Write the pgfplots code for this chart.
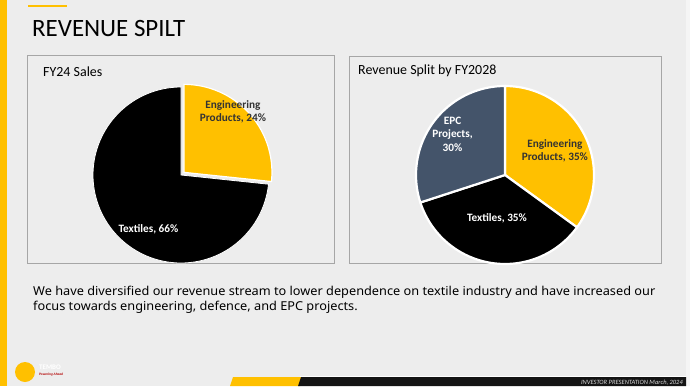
\documentclass[border=0pt]{standalone}
\usepackage{pgfplots}
\pgfplotsset{compat=1.18}
\usepackage{pgfplotstable}
\usepackage{fontspec}
\setmainfont{Carlito}
\newfontfamily\bodyfont{Noto Sans}
\definecolor{bgc}{HTML}{EDEDED}
\definecolor{ylw}{HTML}{FFC000}
\definecolor{slate}{HTML}{44546A}
\definecolor{lbl}{HTML}{333333}
\definecolor{pborder}{HTML}{A6A6A6}

% FY24 sales (%)
\pgfplotstableread{
label value
Engineering 24
Textiles 66
}\fyA
% FY2028 split (%)
\pgfplotstableread{
label value
Engineering 35
Textiles 35
EPC 30
}\fyB

\begin{document}
\begin{tikzpicture}[x=1bp,y=1bp]
\fill[bgc] (0,0) rectangle (690,386);
\fill[white!96!black] (686,0) rectangle (690,386);
\fill[ylw] (0,0) rectangle (7,386);
\fill[ylw] (28,379) rectangle (67,381);
\node[anchor=base west, inner sep=0, font=\fontsize{25}{28}\selectfont] at (32,350) {REVENUE SPILT};
\coordinate (cA) at (181,211);
\coordinate (cB) at (505,211);

% panels
\draw[pborder, line width=0.8bp] (27,123) rectangle (334,331);
\draw[pborder, line width=0.8bp] (349,123) rectangle (661,330);
\node[anchor=west, inner sep=0, font=\fontsize{14}{16}\selectfont] at (43,314) {FY24 Sales};
\node[anchor=west, inner sep=0, font=\fontsize{14}{16}\selectfont] at (358,315) {Revenue Split by FY2028};

% ---------- left pie ----------
\pgfplotstablegetelem{0}{value}\of\fyA \let\aE\pgfplotsretval
\pgfplotstablegetelem{1}{value}\of\fyA \let\aT\pgfplotsretval
\pgfmathsetmacro\aTot{\aE+\aT}
\pgfmathsetmacro\aAngE{360*\aE/\aTot}
\pgfmathsetmacro\aStart{90-\aAngE}
\pgfmathsetmacro\aMid{90-\aAngE/2}
\pgfmathsetmacro\aDx{0.045*cos(\aMid)}
\pgfmathsetmacro\aDy{0.045*sin(\aMid)}
\begin{axis}[at={(cA)}, anchor=origin, scale only axis,
  width=2.3*88bp, height=2.3*88bp, xmin=-1.15, xmax=1.15, ymin=-1.15, ymax=1.15,
  hide axis, clip=false]
\addplot[fill=black, draw=white, line width=0.8bp, domain=90:450-\aAngE, samples=120, variable=\t]
  ({cos(\t)},{sin(\t)}) -- (axis cs:0,0) -- cycle;
\addplot[fill=ylw, draw=white, line width=1.2bp, domain=\aStart:90, samples=60, variable=\t]
  ({\aDx+cos(\t)},{\aDy+sin(\t)}) -- (axis cs:\aDx,\aDy) -- cycle;
\node[align=center, text=lbl, font=\fontsize{11.3}{13}\selectfont\bfseries] at (axis cs:0.59,0.72) {Engineering\\Products, \aE\%};
\node[align=center, text=white, font=\fontsize{11.3}{13}\selectfont\bfseries] at (axis cs:-0.37,-0.62) {Textiles, \aT\%};
\end{axis}

% ---------- right pie ----------
\pgfplotstablegetelem{0}{value}\of\fyB \let\bE\pgfplotsretval
\pgfplotstablegetelem{1}{value}\of\fyB \let\bT\pgfplotsretval
\pgfplotstablegetelem{2}{value}\of\fyB \let\bP\pgfplotsretval
\pgfmathsetmacro\bTot{\bE+\bT+\bP}
\pgfmathsetmacro\bA{90-360*\bE/\bTot}
\pgfmathsetmacro\bB{\bA-360*\bT/\bTot}
\pgfmathsetmacro\bC{\bB-360*\bP/\bTot}
\begin{axis}[at={(cB)}, anchor=origin, scale only axis,
  width=2.3*89bp, height=2.3*89bp, xmin=-1.15, xmax=1.15, ymin=-1.15, ymax=1.15,
  hide axis, clip=false]
\addplot[fill=ylw, draw=white, line width=2.2bp, domain=\bA:90, samples=60, variable=\t]
  ({cos(\t)},{sin(\t)}) -- (axis cs:0,0) -- cycle;
\addplot[fill=black, draw=white, line width=2.2bp, domain=\bB:\bA, samples=60, variable=\t]
  ({cos(\t)},{sin(\t)}) -- (axis cs:0,0) -- cycle;
\addplot[fill=slate, draw=white, line width=2.2bp, domain=\bC:\bB, samples=60, variable=\t]
  ({cos(\t)},{sin(\t)}) -- (axis cs:0,0) -- cycle;
\node[align=center, text=lbl, font=\fontsize{11.3}{13}\selectfont\bfseries] at (axis cs:0.56,0.27) {Engineering\\Products, \bE\%};
\node[align=center, text=white, font=\fontsize{11.3}{13}\selectfont\bfseries] at (axis cs:-0.09,-0.49) {Textiles, \bT\%};
\node[align=center, text=white, font=\fontsize{11.3}{13.5}\selectfont\bfseries] at (axis cs:-0.59,0.46) {EPC\\Projects,\\\bP\%};
\end{axis}

% body text
\node[anchor=base west, inner sep=0, font={\bodyfont\fontsize{12.3}{15}\selectfont}] at (33,91) {\scalebox{1.04}[1]{We have diversified our revenue stream to lower dependence on textile industry and have increased our}};
\node[anchor=base west, inner sep=0, font={\bodyfont\fontsize{12.3}{15}\selectfont}] at (33,76) {\scalebox{1.04}[1]{focus towards engineering, defence, and EPC projects.}};

% footer
\fill[ylw] (230,0) -- (300,0) -- (302,9) -- (233,9) -- cycle;
\fill[white] (300,9) rectangle (686,10);
\fill[black!92] (298,0) -- (686,0) -- (686,9) -- (301,9) -- cycle;
\node[anchor=east, inner sep=0, text=white!85!black, font=\fontsize{6.5}{7}\selectfont\itshape] at (683,3.5) {INVESTOR PRESENTATION March, 2024};
\fill[ylw] (25,14) circle (10);
\node[anchor=west, inner sep=0, text=white, font=\fontsize{7}{7}\selectfont\bfseries] at (39,18.5) {TEMBO};
\node[anchor=west, inner sep=0, text=red!70!black, font=\fontsize{3.5}{4}\selectfont\bfseries\itshape] at (39,11.5) {Powering Ahead};
\pgfresetboundingbox
\path (0,0) rectangle (690,386);
\end{tikzpicture}
\end{document}
